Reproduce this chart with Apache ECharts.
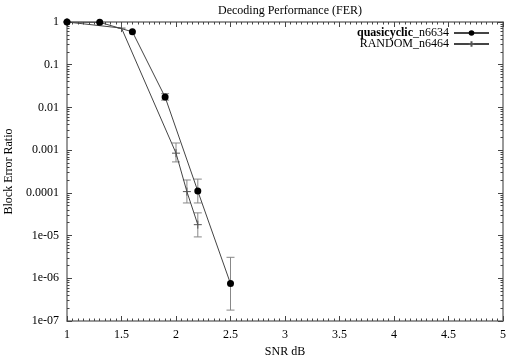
<!DOCTYPE html>
<html><head><meta charset="utf-8">
<script src="https://cdn.jsdelivr.net/npm/echarts@6/dist/echarts.min.js"></script>
<style>html,body{margin:0;padding:0;background:#fff}#c{width:509px;height:360px}</style>
</head><body><div id="c"></div>
<script>
var titleText = 'Decoding Performance (FER)';
var xName = 'SNR dB';
var yName = 'Block Error Ratio';
var seriesNames = ['quasicyclic_n6634', 'RANDOM_n6464'];
var quasiSnr = [1.0, 1.3, 1.6, 1.9, 2.2, 2.5];
var quasiFer = [1.0, 0.98, 0.59, 0.0175, 1.1e-4, 7.5e-7];
var quasiLo  = [null, null, null, 0.0148, 5.8e-5, 1.8e-7];
var quasiHi  = [null, null, null, 0.021, 2.1e-4, 3.1e-6];
var randSnr = [1.0, 1.5, 2.0, 2.1, 2.2];
var randFer = [1.0, 0.72, 8.5e-4, 1.07e-4, 1.8e-5];
var randLo  = [null, null, 5.3e-4, 5.8e-5, 9.3e-6];
var randHi  = [null, null, 1.47e-3, 2.0e-4, 3.4e-5];
var xTicks = [1, 1.5, 2, 2.5, 3, 3.5, 4, 4.5, 5];
var yTickLabels = ['1e-07','1e-06','1e-05','0.0001','0.001','0.01','0.1','1'];

var FONT = 'Liberation Serif';
function pairs(xs, ys){ return xs.map(function(x,i){ return [x, ys[i]]; }); }
function errs(xs, lo, hi){
  var out = [];
  xs.forEach(function(x,i){ if (lo[i] != null) out.push([x, lo[i], hi[i]]); });
  return out;
}
function errRender(params, api){
  var x = api.value(0);
  var p1 = api.coord([x, api.value(1)]);
  var p2 = api.coord([x, api.value(2)]);
  var w = 4;
  var st = {stroke: '#888', lineWidth: 1};
  return {type: 'group', children: [
    {type:'line', shape:{x1:p1[0], y1:p1[1], x2:p2[0], y2:p2[1]}, style: st},
    {type:'line', shape:{x1:p1[0]-w, y1:p1[1], x2:p1[0]+w, y2:p1[1]}, style: st},
    {type:'line', shape:{x1:p2[0]-w, y1:p2[1], x2:p2[0]+w, y2:p2[1]}, style: st}
  ]};
}
function yFmt(v){
  var e = Math.round(Math.log10(v));
  return yTickLabels[e + 7];
}
var plus = 'path://M0,5L10,5M5,0L5,10';
var axisCommon = {
  axisLine: {show: true, lineStyle: {color: '#777', width: 1.5}},
  axisTick: {show: true, inside: true, length: 5, lineStyle: {color: '#444'}},
  minorTick: {show: true, splitNumber: 10, length: 2.5, lineStyle: {color: '#444'}},
  splitLine: {show: false},
  axisLabel: {fontFamily: FONT, fontSize: 12, color: '#000'}
};
var chart = echarts.init(document.getElementById('c'), null, {renderer: 'canvas'});
chart.setOption({
  animation: false,
  backgroundColor: '#fff',
  title: {text: titleText, left: 285, top: 0, textAlign: 'center',
    textStyle: {fontFamily: FONT, fontSize: 12, fontWeight: 'normal', color: '#000'}},
  grid: {left: 67, right: 6, top: 22, bottom: 39, containLabel: false, outerBoundsMode: 'none'},
  legend: {
    orient: 'vertical', right: 14, top: 22, align: 'right', itemGap: -1,
    itemWidth: 35, itemHeight: 7,
    data: [
      {name: seriesNames[0], itemStyle: {color: '#000'}},
      {name: seriesNames[1]}
    ],
    textStyle: {fontFamily: FONT, fontSize: 12, color: '#000',
      rich: {b: {fontFamily: FONT, fontSize: 12, fontWeight: 'bold', color: '#000'}}},
    formatter: function(n){ return n === seriesNames[0] ? '{b|quasicyclic}_n6634' : n; }
  },
  xAxis: [
    Object.assign({}, axisCommon, {type: 'value', min: 1, max: 5, interval: 0.5, position: 'bottom',
      name: xName, nameLocation: 'middle', nameGap: 17,
      nameTextStyle: {fontFamily: FONT, fontSize: 12, color: '#000'},
      axisLabel: {fontFamily: FONT, fontSize: 12, color: '#000', margin: 8,
        formatter: function(v){ return xTicks.indexOf(v) >= 0 ? String(v) : ''; }}}),
    Object.assign({}, axisCommon, {type: 'value', min: 1, max: 5, interval: 0.5, position: 'top',
      axisLabel: {show: false}})
  ],
  yAxis: [
    Object.assign({}, axisCommon, {type: 'log', logBase: 10, min: 1e-7, max: 1, position: 'left',
      name: yName, nameLocation: 'middle', nameGap: 46, nameRotate: 90,
      nameTextStyle: {fontFamily: FONT, fontSize: 12, color: '#000'},
      minorTick: {show: true, splitNumber: 9, length: 2.5, lineStyle: {color: '#444'}},
      axisLabel: {fontFamily: FONT, fontSize: 12, color: '#000', margin: 8, formatter: yFmt}}),
    Object.assign({}, axisCommon, {type: 'log', logBase: 10, min: 1e-7, max: 1, position: 'right',
      minorTick: {show: true, splitNumber: 9, length: 2.5, lineStyle: {color: '#444'}},
      axisLabel: {show: false}})
  ],
  series: [
    {name: seriesNames[0], type: 'line', data: pairs(quasiSnr, quasiFer),
      symbol: 'circle', symbolSize: 7, showAllSymbol: true,
      lineStyle: {color: '#444', width: 1}, itemStyle: {color: '#000'}, z: 5},
    {name: seriesNames[1], type: 'line', data: pairs(randSnr, randFer),
      symbol: plus, symbolSize: 8, showAllSymbol: true,
      lineStyle: {color: '#444', width: 1}, itemStyle: {color: '#fff', borderColor: '#555', borderWidth: 1}, z: 4},
    {type: 'custom', renderItem: errRender, data: errs(quasiSnr, quasiLo, quasiHi),
      encode: {x: 0, y: [1, 2]}, z: 3, silent: true},
    {type: 'custom', renderItem: errRender, data: errs(randSnr, randLo, randHi),
      encode: {x: 0, y: [1, 2]}, z: 3, silent: true}
  ]
});
</script></body></html>
